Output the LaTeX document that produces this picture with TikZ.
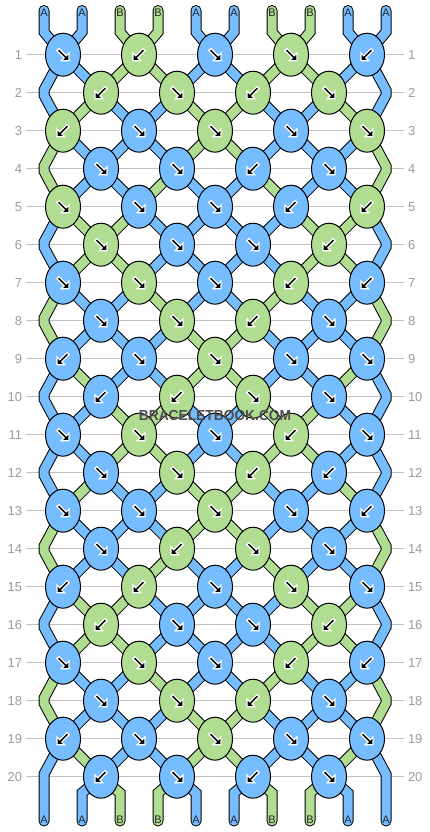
\documentclass[tikz,border=0pt]{standalone}
\usepackage{fontspec}
\setmainfont{Liberation Sans}
\usetikzlibrary{shapes.geometric}

\definecolor{strA}{RGB}{117,189,255}
\definecolor{strB}{RGB}{177,221,147}
\definecolor{rulegray}{RGB}{192,192,192}
\definecolor{numgray}{RGB}{155,155,155}
\definecolor{markgray}{RGB}{77,77,77}

\pgfdeclarelayer{rules}
\pgfdeclarelayer{strands}
\pgfsetlayers{rules,strands,main}

\begin{document}
\begin{tikzpicture}[x=1pt, y=-1pt,
    knot/.style={draw, ellipse, line width=1pt, fill=#1, minimum width=35pt, minimum height=43pt, inner sep=0pt},
    strand/.style={double=#1, double distance=9pt, line width=1pt, line cap=round, line join=miter},
    rownum/.style={text=numgray, font=\fontsize{13}{13}\selectfont, inner sep=0pt, outer sep=4pt},
    endlab/.style={font=\fontsize{11}{11}\selectfont, text=black!85, inner sep=0pt},
    arrowfill/.style={fill=black, draw=white, line width=1.2pt, line join=miter},
    fwd/.pic={\path[arrowfill] (-4.05,-6.15) -- (3.2,1.1) -- (6,-1.7) -- (6,6) -- (-1.7,6) -- (1.1,3.2) -- (-6.15,-4.05) -- cycle;},
    bwd/.pic={\path[arrowfill, xscale=-1] (-4.05,-6.15) -- (3.2,1.1) -- (6,-1.7) -- (6,6) -- (-1.7,6) -- (1.1,3.2) -- (-6.15,-4.05) -- cycle;}]

    \useasboundingbox (0,0) rectangle (430,832);

    % Row numbers and rules
    \begin{pgfonlayer}{rules}
    \foreach \r in {1,...,20} {
        \pgfmathsetmacro\ry{54.7+38*(\r-1)}
        \node[rownum, anchor=east] at (26,\ry) (ln-\r) {\r};
        \node[rownum, anchor=west] at (404,\ry) (rn-\r) {\r};
        \draw[rulegray, line width=1pt] (ln-\r) -- (rn-\r);
    }
    \end{pgfonlayer}

    % Knots (colour/direction per row)
    \foreach \r/\row in {
        1/{A/fwd,B/bwd,A/fwd,B/fwd,A/bwd},
        2/{B/bwd,B/fwd,B/bwd,B/fwd},
        3/{B/bwd,A/fwd,B/fwd,A/fwd,B/fwd},
        4/{A/fwd,A/fwd,A/bwd,A/fwd},
        5/{B/fwd,A/fwd,A/fwd,A/bwd,B/bwd},
        6/{B/fwd,A/fwd,A/fwd,B/bwd},
        7/{A/fwd,B/fwd,A/fwd,B/bwd,A/bwd},
        8/{A/fwd,B/fwd,B/bwd,A/fwd},
        9/{A/bwd,A/fwd,B/fwd,A/fwd,A/fwd},
        10/{A/bwd,B/bwd,B/fwd,A/fwd},
        11/{A/fwd,B/fwd,A/fwd,B/bwd,A/fwd},
        12/{A/fwd,B/fwd,B/bwd,A/bwd},
        13/{A/fwd,A/fwd,B/fwd,A/fwd,A/bwd},
        14/{A/fwd,B/bwd,B/fwd,A/fwd},
        15/{A/bwd,B/bwd,A/fwd,B/fwd,A/fwd},
        16/{B/bwd,A/fwd,A/fwd,B/bwd},
        17/{A/fwd,B/fwd,A/fwd,B/bwd,A/bwd},
        18/{A/fwd,B/fwd,B/bwd,A/fwd},
        19/{A/bwd,A/fwd,B/fwd,A/fwd,A/fwd},
        20/{A/bwd,A/fwd,A/bwd,A/fwd}} {
        \pgfmathsetmacro\ky{54.7+38*(\r-1)}
        \foreach \col/\dir [count=\k] in \row {
            \ifodd\r \pgfmathsetmacro\kx{63+76*(\k-1)}\else\pgfmathsetmacro\kx{101+76*(\k-1)}\fi
            \node[knot=str\col] at (\kx,\ky) (n-\r-\k) {};
            \pic at (n-\r-\k) {\dir};
        }
    }

    % Edge turns
    \foreach \r in {2,4,...,20} {
        \pgfmathsetmacro\ky{54.7+38*(\r-1)}
        \coordinate (e-\r-L) at (44,\ky);
        \coordinate (e-\r-R) at (386,\ky);
    }

    % String ends and their letters
    \foreach \col [count=\pos] in {A,A,B,B,A,A,B,B,A,A} {
        \pgfmathsetmacro\sx{44+38*(\pos-1)}
        \coordinate (t-\pos) at (\sx,10.5);
        \coordinate (u-\pos) at (\sx,32);
        \coordinate (v-\pos) at (\sx,793);
        \coordinate (b-\pos) at (\sx,821);
        \node[endlab] at (\sx,13) (tl-\pos) {\col};
        \node[endlab] at (\sx,820) (bl-\pos) {\col};
    }

    \begin{pgfonlayer}{strands}
    % top
    \foreach \col [count=\pos] in {A,A,B,B,A,A,B,B,A,A} {
        \pgfmathtruncatemacro\ka{(\pos+1)/2}
        \draw[strand=str\col] (t-\pos) -- (u-\pos) -- (n-1-\ka.center);
    }
    % strings after each row
    \foreach \r/\st in {
        1/{A,A,B,B,A,A,B,B,A,A},
        2/{A,B,A,A,B,B,A,A,B,A},
        3/{B,A,A,A,B,B,A,A,A,B},
        4/{B,A,A,B,A,A,B,A,A,B},
        5/{A,B,B,A,A,A,A,B,B,A},
        6/{A,B,B,A,A,A,A,B,B,A},
        7/{B,A,A,B,A,A,B,A,A,B},
        8/{B,A,A,A,B,B,A,A,A,B},
        9/{A,B,A,A,B,B,A,A,B,A},
        10/{A,A,B,B,A,A,B,B,A,A},
        11/{A,A,B,B,A,A,B,B,A,A},
        12/{A,B,A,A,B,B,A,A,B,A},
        13/{B,A,A,A,B,B,A,A,A,B},
        14/{B,A,A,B,A,A,B,A,A,B},
        15/{A,B,B,A,A,A,A,B,B,A},
        16/{A,B,B,A,A,A,A,B,B,A},
        17/{B,A,A,B,A,A,B,A,A,B},
        18/{B,A,A,A,B,B,A,A,A,B},
        19/{A,B,A,A,B,B,A,A,B,A}} {
        \pgfmathtruncatemacro\rn{\r+1}
        \pgfmathtruncatemacro\rnn{\r+2}
        \foreach \col [count=\pos] in \st {
            \pgfmathtruncatemacro\ka{(\pos+1)/2}
            \pgfmathtruncatemacro\kb{\pos/2}
            \ifodd\r
                \ifnum\pos=1 \def\side{L}\else\def\side{R}\fi
                \ifnum\r=19 \def\nxt{b-\pos}\else\def\nxt{n-\rnn-\ka.center}\fi
                \ifnum\pos=1 \def\isedge{1}\else\ifnum\pos=10 \def\isedge{1}\else\def\isedge{0}\fi\fi
                \ifnum\isedge=1
                    \draw[strand=str\col] (n-\r-\ka.center) -- ([yshift=2.5pt]e-\rn-\side) -- ([yshift=-2.5pt]e-\rn-\side) -- (\nxt);
                \else
                    \draw[strand=str\col] (n-\r-\ka.center) -- (n-\rn-\kb.center);
                \fi
            \else
                \ifnum\pos>1 \ifnum\pos<10
                    \draw[strand=str\col] (n-\r-\kb.center) -- (n-\rn-\ka.center);
                \fi\fi
            \fi
        }
    }
    % bottom
    \foreach \col [count=\pos] in {A,A,B,B,A,A,B,B,A,A} {
        \ifnum\pos>1 \ifnum\pos<10
            \pgfmathtruncatemacro\kb{\pos/2}
            \draw[strand=str\col] (n-20-\kb.center) -- (v-\pos) -- (b-\pos);
        \fi\fi
    }
    \end{pgfonlayer}

    % Watermark
    \node[font=\fontsize{14.5}{14.5}\selectfont\bfseries, text=markgray, xscale=0.95] at (215,415.5) (mark) {BRACELETBOOK.COM};
\end{tikzpicture}
\end{document}
